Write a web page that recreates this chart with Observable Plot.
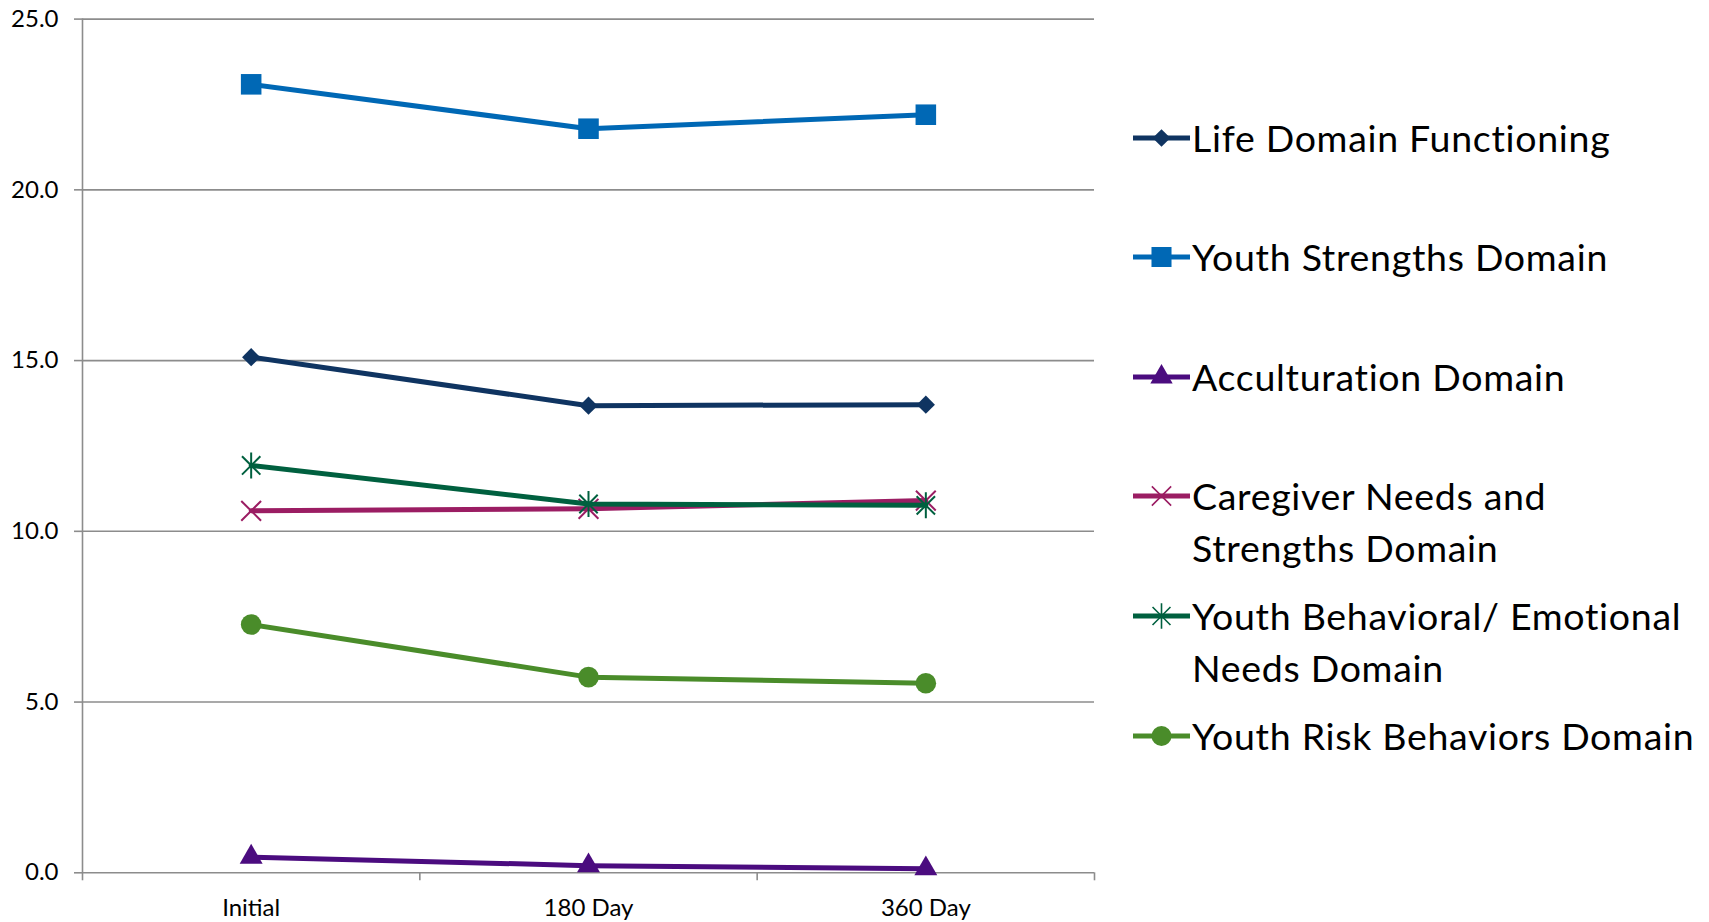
<!DOCTYPE html>
<html><head><meta charset="utf-8">
<script src="https://cdn.jsdelivr.net/npm/d3@7"></script>
<script src="https://cdn.jsdelivr.net/npm/@observablehq/plot@0.6"></script>
<style>
html,body{margin:0;padding:0;background:#fff;}
#wrap{position:relative;width:1709px;height:922px;overflow:hidden;font-family:Lato,sans-serif;}
#chart{position:absolute;left:0;top:0;}
#legend{position:absolute;left:1133px;top:0;width:576px;}
.item{position:absolute;left:0;display:flex;align-items:flex-start;}
.item svg{flex:none;}
.label{font-size:37.5px;line-height:52px;color:#000;white-space:nowrap;letter-spacing:0.7px;}
</style></head><body>
<div id="wrap"><div id="chart"></div><div id="legend"></div></div>
<script>
// ---- data ----
const categories = ["Initial", "180 Day", "360 Day"];
const seriesNames = [
  "Life Domain Functioning",
  "Youth Strengths Domain",
  "Acculturation Domain",
  "Caregiver Needs and Strengths Domain",
  "Youth Behavioral/ Emotional Needs Domain",
  "Youth Risk Behaviors Domain"
];
const legendLines = [
  ["Life Domain Functioning"],
  ["Youth Strengths Domain"],
  ["Acculturation Domain"],
  ["Caregiver Needs and", "Strengths Domain"],
  ["Youth Behavioral/ Emotional", "Needs Domain"],
  ["Youth Risk Behaviors Domain"]
];
const lifeDomain = [15.1, 13.68, 13.71];
const youthStrengths = [23.09, 21.79, 22.2];
const acculturation = [0.46, 0.21, 0.12];
const caregiver = [10.6, 10.66, 10.9];
const youthBehavioral = [11.93, 10.8, 10.76];
const youthRisk = [7.27, 5.73, 5.55];
const yTicks = [0, 5, 10, 15, 20, 25];

const seriesValues = [lifeDomain, youthStrengths, acculturation, caregiver, youthBehavioral, youthRisk];
const colors = ["#0F3461", "#0068B5", "#4B0C7F", "#9B1D63", "#00603F", "#4A8C2A"];

// custom symbols
const starSym = { // X plus vertical bar (Excel "star" marker)
  draw(ctx, size) {
    const r = Math.sqrt(size / Math.PI);
    const d = r * Math.SQRT1_2;
    ctx.moveTo(-d, -d); ctx.lineTo(d, d);
    ctx.moveTo(d, -d); ctx.lineTo(-d, d);
    ctx.moveTo(0, -r); ctx.lineTo(0, r);
  }
};
const timesSym = {
  draw(ctx, size) {
    const r = Math.sqrt(size / Math.PI);
    const d = r * Math.SQRT1_2;
    ctx.moveTo(-d, -d); ctx.lineTo(d, d);
    ctx.moveTo(d, -d); ctx.lineTo(-d, d);
  }
};
const markers = [
  {symbol: "diamond2", r: 8.2, filled: true},
  {symbol: "square", r: 11.6, filled: true},
  {symbol: "triangle", r: 8.5, filled: true},
  {symbol: timesSym, r: 14, filled: false},
  {symbol: starSym, r: 13, filled: false},
  {symbol: "circle", r: 10.3, filled: true}
];

const rows = [];
seriesNames.forEach((s, si) => {
  categories.forEach((c, ci) => {
    rows.push({series: s, si, cat: c, xi: ci + 0.5, value: seriesValues[si][ci]});
  });
});

const gridColor = "#8C8C8C";
const marks = [
  Plot.gridY({ticks: yTicks, stroke: gridColor, strokeOpacity: 1, strokeWidth: 1.6}),
  Plot.ruleX([0], {stroke: gridColor, strokeWidth: 1.6}),
  Plot.axisY({ticks: yTicks, tickFormat: d3.format(".1f"), tickSize: 8, tickPadding: 16,
    fontSize: 24, stroke: gridColor, strokeWidth: 1.6, color: "#000", label: null}),
  Plot.axisX({ticks: d3.range(categories.length + 1), tickFormat: () => "", tickSize: 8,
    stroke: gridColor, strokeWidth: 1.6, label: null}),
  Plot.axisX({ticks: categories.map((c, i) => i + 0.5), tickFormat: d => categories[Math.floor(d)],
    tickSize: 0, tickPadding: 26, fontSize: 24, color: "#000", label: null})
];
seriesNames.forEach((s, si) => {
  const data = rows.filter(r => r.si === si);
  const m = markers[si];
  marks.push(Plot.line(data, {x: "xi", y: "value", stroke: colors[si], strokeWidth: 5}));
  marks.push(Plot.dot(data, m.filled
    ? {x: "xi", y: "value", symbol: () => m.symbol, r: m.r, fill: colors[si], stroke: "none"}
    : {x: "xi", y: "value", symbol: () => m.symbol, r: m.r, fill: "none", stroke: colors[si], strokeWidth: 2}));
});

const chart = Plot.plot({
  width: 1110,
  height: 922,
  marginLeft: 82,
  marginRight: 16,
  marginTop: 18.6,
  marginBottom: 49.7,
  style: {fontFamily: "Lato, sans-serif", background: "#fff", overflow: "visible"},
  x: {type: "linear", domain: [0, categories.length], axis: null},
  y: {domain: [0, 25], axis: null},
  symbol: {type: "identity"},
  marks
});
document.getElementById("chart").appendChild(chart);

// ---- legend ----
const legend = d3.select("#legend");
const legendCenters0 = 137.5, legendStep = 119.6;
legendLines.forEach((lines, i) => {
  const cy = legendCenters0 + i * legendStep;
  const item = legend.append("div").attr("class", "item").style("top", (cy - 26) + "px");
  const svg = item.append("svg").attr("width", 59).attr("height", 52);
  svg.append("line").attr("x1", 0).attr("x2", 57).attr("y1", 26).attr("y2", 26)
    .attr("stroke", colors[i]).attr("stroke-width", 5);
  const m = markers[i];
  const symType = typeof m.symbol === "string"
    ? ({diamond2: d3.symbolDiamond2, square: d3.symbolSquare, triangle: d3.symbolTriangle, circle: d3.symbolCircle})[m.symbol]
    : m.symbol;
  const p = svg.append("path").attr("transform", "translate(28.5,26)")
    .attr("d", d3.symbol(symType, Math.PI * m.r * m.r * 0.95)());
  if (m.filled) p.attr("fill", colors[i]);
  else p.attr("fill", "none").attr("stroke", colors[i]).attr("stroke-width", 1.6);
  const lab = item.append("div").attr("class", "label");
  lines.forEach(t => lab.append("div").text(t));
});
</script>
</body></html>
